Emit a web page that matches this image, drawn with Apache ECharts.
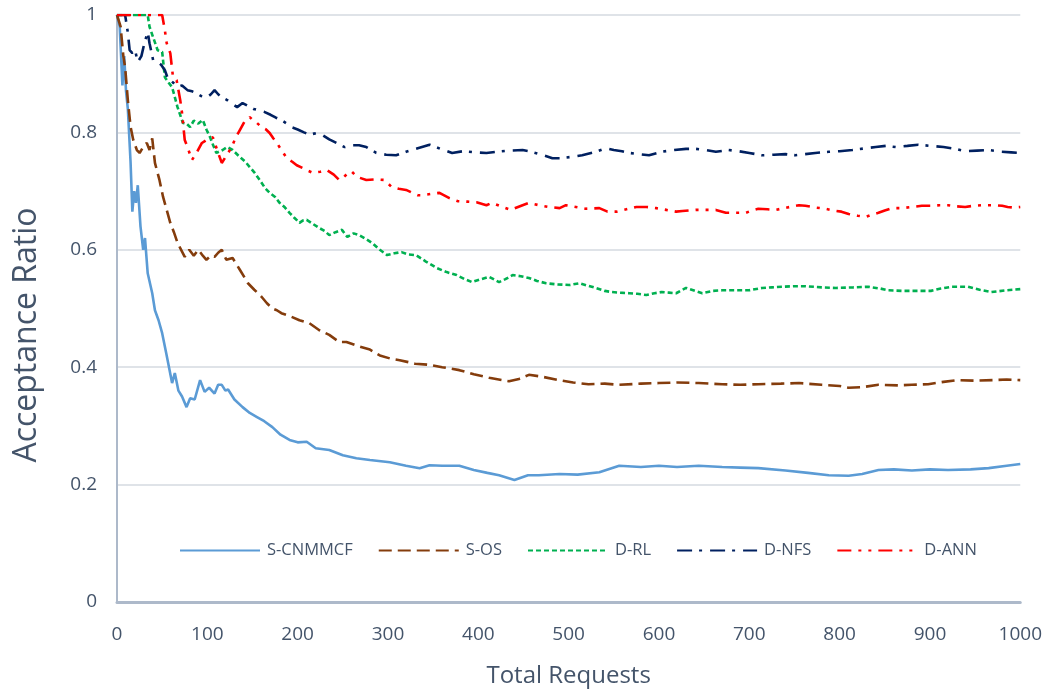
<!DOCTYPE html>
<html>
<head>
<meta charset="utf-8">
<script src="https://cdn.jsdelivr.net/npm/echarts@6/dist/echarts.min.js"></script>
<style>
html,body{margin:0;padding:0;background:#fff;}
#main{width:1045px;height:694px;}
</style>
</head>
<body>
<div id="main"></div>
<script>
// series names
var names = ["S-CNMMCF", "S-OS", "D-RL", "D-NFS", "D-ANN"];
var xTicks = [0, 100, 200, 300, 400, 500, 600, 700, 800, 900, 1000];
var yTicks = [0, 0.2, 0.4, 0.6, 0.8, 1];

// [requests, acceptance ratio]
var sCnmmcf = [[0,1],[3,0.98],[6,0.88],[8,0.93],[10,0.87],[12,0.84],[15,0.75],[17,0.665],[19,0.70],[21,0.68],[23,0.71],[26,0.64],[29,0.60],[31,0.62],[34,0.56],[39,0.526],[42,0.497],[46,0.48],[50,0.458],[55,0.42],[61,0.373],[64,0.39],[68,0.36],[72,0.35],[77,0.332],[81,0.347],[86,0.345],[92,0.378],[97,0.358],[102,0.365],[108,0.355],[112,0.37],[116,0.37],[120,0.36],[123,0.362],[130,0.345],[139,0.332],[147,0.322],[155,0.315],[163,0.308],[172,0.298],[181,0.285],[191,0.276],[200,0.272],[210,0.273],[220,0.262],[235,0.259],[250,0.25],[265,0.245],[280,0.242],[302,0.238],[320,0.232],[335,0.228],[346,0.233],[360,0.232],[379,0.232],[395,0.225],[410,0.22],[423,0.216],[440,0.208],[455,0.216],[467,0.216],[490,0.218],[510,0.217],[534,0.221],[556,0.232],[580,0.23],[600,0.232],[620,0.23],[644,0.232],[670,0.23],[690,0.229],[710,0.228],[740,0.224],[765,0.22],[788,0.216],[810,0.215],[825,0.218],[843,0.225],[860,0.226],[880,0.224],[900,0.226],[920,0.225],[945,0.226],[965,0.228],[985,0.232],[1000,0.235]];

var sOs = [[0,1],[4,0.98],[7,0.93],[9,0.911],[12,0.855],[15,0.81],[18,0.787],[22,0.77],[25,0.765],[29,0.775],[33,0.782],[36,0.77],[39,0.79],[42,0.748],[47,0.719],[51,0.69],[55,0.668],[59,0.646],[63,0.63],[67,0.612],[71,0.6],[75,0.588],[80,0.6],[85,0.59],[90,0.6],[95,0.59],[99,0.583],[104,0.59],[108,0.588],[112,0.595],[116,0.6],[121,0.583],[128,0.586],[136,0.566],[145,0.543],[152,0.532],[160,0.52],[166,0.509],[172,0.5],[177,0.497],[182,0.492],[193,0.486],[202,0.48],[213,0.475],[224,0.463],[235,0.455],[246,0.443],[254,0.443],[265,0.437],[280,0.43],[291,0.42],[302,0.415],[313,0.412],[330,0.406],[346,0.404],[360,0.4],[379,0.395],[395,0.388],[412,0.382],[434,0.376],[445,0.38],[456,0.387],[470,0.384],[489,0.378],[505,0.374],[522,0.371],[540,0.372],[556,0.37],[580,0.372],[600,0.373],[620,0.374],[644,0.373],[670,0.371],[690,0.37],[710,0.371],[735,0.372],[755,0.373],[780,0.37],[800,0.368],[810,0.365],[825,0.366],[843,0.37],[865,0.369],[880,0.37],[898,0.371],[915,0.375],[931,0.378],[950,0.377],[970,0.378],[985,0.379],[1000,0.378]];

var dRl = [[0,1],[22,1],[34,1],[36,0.98],[40,0.962],[45,0.94],[50,0.937],[53,0.894],[57,0.885],[61,0.877],[64,0.86],[67,0.843],[73,0.816],[77,0.815],[81,0.809],[85,0.82],[90,0.815],[95,0.821],[99,0.805],[103,0.792],[106,0.78],[110,0.765],[117,0.77],[122,0.775],[128,0.77],[136,0.758],[142,0.75],[147,0.741],[152,0.732],[158,0.719],[164,0.705],[169,0.697],[175,0.69],[180,0.68],[186,0.672],[191,0.663],[196,0.655],[202,0.646],[206,0.65],[210,0.651],[217,0.644],[224,0.637],[230,0.632],[235,0.625],[242,0.63],[249,0.634],[255,0.622],[262,0.628],[268,0.625],[276,0.618],[283,0.611],[291,0.6],[299,0.591],[307,0.594],[315,0.596],[322,0.592],[331,0.591],[342,0.58],[354,0.569],[365,0.562],[376,0.557],[385,0.55],[393,0.545],[403,0.55],[412,0.554],[423,0.545],[430,0.55],[438,0.557],[447,0.555],[456,0.552],[465,0.547],[475,0.543],[488,0.541],[501,0.54],[512,0.543],[521,0.539],[530,0.535],[540,0.53],[548,0.528],[557,0.527],[567,0.526],[576,0.525],[586,0.523],[595,0.526],[603,0.528],[611,0.527],[619,0.526],[625,0.531],[630,0.535],[640,0.53],[648,0.526],[660,0.53],[670,0.531],[685,0.531],[700,0.531],[714,0.535],[725,0.536],[736,0.537],[750,0.538],[762,0.538],[780,0.536],[796,0.535],[815,0.536],[832,0.537],[845,0.534],[854,0.531],[870,0.53],[884,0.53],[901,0.53],[912,0.534],[924,0.537],[942,0.537],[955,0.532],[968,0.528],[985,0.531],[1000,0.533]];

var dNfs = [[0,1],[5,1],[9,1],[12,0.97],[14,0.94],[17,0.935],[20,0.94],[23,0.92],[27,0.93],[30,0.95],[34,0.971],[36,0.952],[40,0.923],[45,0.92],[49,0.915],[53,0.906],[56,0.893],[62,0.885],[67,0.877],[72,0.88],[78,0.872],[83,0.87],[88,0.867],[93,0.862],[99,0.859],[104,0.865],[108,0.872],[112,0.865],[116,0.86],[122,0.855],[128,0.848],[133,0.843],[139,0.85],[145,0.845],[151,0.84],[156,0.838],[163,0.835],[170,0.83],[176,0.825],[182,0.821],[188,0.815],[193,0.809],[200,0.805],[207,0.8],[213,0.796],[221,0.799],[228,0.795],[235,0.788],[243,0.782],[252,0.775],[260,0.778],[268,0.778],[276,0.775],[287,0.765],[298,0.762],[309,0.761],[320,0.767],[333,0.773],[346,0.779],[358,0.772],[371,0.765],[383,0.768],[396,0.766],[409,0.765],[420,0.767],[435,0.769],[449,0.77],[456,0.768],[470,0.762],[482,0.756],[490,0.756],[502,0.758],[515,0.761],[530,0.767],[541,0.773],[550,0.77],[559,0.768],[567,0.765],[578,0.763],[589,0.761],[603,0.767],[617,0.77],[630,0.772],[641,0.772],[652,0.77],[663,0.767],[677,0.77],[688,0.768],[700,0.765],[714,0.761],[727,0.762],[740,0.763],[751,0.761],[762,0.763],[773,0.765],[788,0.767],[800,0.768],[814,0.77],[829,0.773],[840,0.775],[851,0.777],[862,0.775],[875,0.777],[887,0.779],[901,0.777],[915,0.775],[928,0.772],[939,0.768],[952,0.769],[965,0.77],[979,0.767],[990,0.766],[1000,0.765]];

var dAnn = [[0,1],[20,1],[40,1],[50,1],[53,0.974],[55,0.952],[59,0.935],[62,0.894],[66,0.889],[70,0.855],[72,0.833],[75,0.787],[78,0.775],[83,0.753],[88,0.765],[94,0.782],[99,0.787],[106,0.792],[112,0.765],[116,0.748],[121,0.76],[127,0.775],[131,0.79],[136,0.804],[141,0.818],[147,0.826],[151,0.82],[155,0.816],[160,0.809],[165,0.805],[169,0.799],[173,0.79],[177,0.782],[182,0.77],[188,0.756],[194,0.75],[199,0.744],[206,0.739],[211,0.735],[217,0.731],[225,0.733],[232,0.736],[240,0.728],[246,0.719],[250,0.722],[257,0.733],[260,0.733],[266,0.724],[276,0.719],[286,0.72],[296,0.719],[304,0.707],[312,0.704],[320,0.702],[327,0.697],[333,0.693],[338,0.693],[347,0.695],[357,0.697],[368,0.688],[377,0.683],[388,0.682],[398,0.681],[409,0.676],[415,0.68],[425,0.674],[436,0.668],[449,0.676],[456,0.68],[467,0.676],[478,0.673],[490,0.671],[497,0.676],[508,0.673],[519,0.67],[534,0.671],[543,0.665],[553,0.665],[564,0.669],[575,0.673],[586,0.673],[597,0.671],[608,0.668],[619,0.665],[626,0.666],[633,0.667],[641,0.668],[652,0.668],[663,0.668],[674,0.663],[685,0.663],[696,0.663],[703,0.667],[710,0.67],[720,0.669],[729,0.668],[742,0.672],[755,0.676],[762,0.675],[773,0.672],[784,0.67],[793,0.667],[802,0.665],[810,0.661],[820,0.658],[829,0.656],[836,0.66],[843,0.663],[850,0.667],[858,0.671],[869,0.671],[880,0.673],[891,0.675],[901,0.675],[911,0.676],[920,0.676],[930,0.674],[939,0.673],[948,0.675],[957,0.676],[965,0.676],[972,0.676],[980,0.675],[986,0.673],[993,0.672],[1000,0.673]];

var FONT = "'Open Sans', sans-serif";
var TXT = '#44546a';

var mycharts = echarts.init(document.getElementById('main'));

function line(name, data, color, dash){
	return {
		name: name,
		type: 'line',
		data: data,
		symbol: 'none',
		smooth: false,
		lineStyle: {color: color, width: 2.6, type: dash},
		itemStyle: {color: color}
	};
}

var option = {
	animation: false,
	grid: {left: 117, right: 23, top: 15, bottom: 92},
	legend: {
		left: 174,
		top: 537,
		itemWidth: 80,
		itemHeight: 14,
		itemGap: 25,
		itemStyle: {opacity: 0},
		textStyle: {fontFamily: FONT, fontSize: 16.5, color: TXT, padding: [0, 0, 0, 2]},
		data: names
	},
	xAxis: {
		type: 'value',
		min: 0, max: 1000, interval: 100,
		name: 'Total Requests',
		nameLocation: 'middle',
		nameGap: 62,
		nameTextStyle: {fontFamily: FONT, fontSize: 24, color: TXT},
		axisLine: {lineStyle: {color: '#adb9ca', width: 3}},
		axisTick: {show: false},
		splitLine: {show: false},
		axisLabel: {margin: 23, fontFamily: FONT, fontSize: 19, color: TXT,
			formatter: function(v){ return xTicks.indexOf(v) >= 0 ? String(v) : ''; }}
	},
	yAxis: {
		type: 'value',
		min: 0, max: 1, interval: 0.2,
		axisLine: {show: true, lineStyle: {color: '#adb9ca', width: 2}},
		axisTick: {show: false},
		splitLine: {lineStyle: {color: '#dfe3e8', width: 2}},
		axisLabel: {margin: 20, fontFamily: FONT, fontSize: 19, color: TXT,
			formatter: function(v){ return String(Math.round(v * 10) / 10); }}
	},
	graphic: [{
		type: 'text',
		x: 27, y: 335,
		rotation: Math.PI / 2,
		style: {
			text: 'Acceptance Ratio',
			font: "32px 'Open Sans', sans-serif",
			fill: TXT,
			align: 'center',
			verticalAlign: 'middle'
		}
	}],
	series: [
		line(names[0], sCnmmcf, '#5b9bd5', 'solid'),
		line(names[1], sOs, '#843c0c', [13, 6]),
		line(names[2], dRl, '#00b050', [5, 3]),
		line(names[3], dNfs, '#002060', [15, 7, 3, 8]),
		line(names[4], dAnn, '#ff0000', [14, 7, 3, 7, 3, 7])
	]
};
mycharts.setOption(option);
</script>
</body>
</html>
